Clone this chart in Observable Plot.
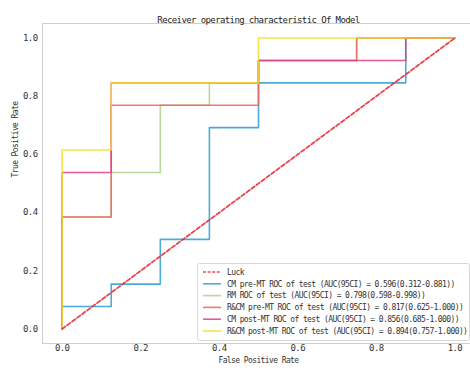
<!DOCTYPE html>
<html>
<head>
<meta charset="utf-8">
<script src="https://cdn.jsdelivr.net/npm/d3@7"></script>
<script src="https://cdn.jsdelivr.net/npm/@observablehq/plot@0.6"></script>
<style>
  html, body { margin: 0; padding: 0; background: #fff; }
  .roc text { letter-spacing: -0.6px; }
</style>
</head>
<body>
<div id="chart"></div>
<script>
// ---- data ----
const title = "Receiver operating characteristic Of Model";
const xLabel = "False Positive Rate";
const yLabel = "True Positive Rate";
const ticks = [0, 0.2, 0.4, 0.6, 0.8, 1.0];

const seriesNames = [
  "CM pre-MT ROC of test (AUC(95CI) = 0.596(0.312-0.881))",
  "RM ROC of test (AUC(95CI) = 0.798(0.598-0.998))",
  "R&CM pre-MT ROC of test (AUC(95CI) = 0.817(0.625-1.000))",
  "CM post-MT ROC of test (AUC(95CI) = 0.856(0.685-1.000))",
  "R&CM post-MT ROC of test (AUC(95CI) = 0.894(0.757-1.000))"
];
const luckName = "Luck";
const luckX = [0, 1];
const luckY = [0, 1];

const cmPreFpr  = [0, 0, 0.125, 0.125, 0.25, 0.25, 0.375, 0.375, 0.5, 0.5, 0.875, 0.875, 1];
const cmPreTpr  = [0, 0.077, 0.077, 0.154, 0.154, 0.308, 0.308, 0.692, 0.692, 0.846, 0.846, 1, 1];
const rmFpr     = [0, 0, 0.125, 0.125, 0.25, 0.25, 0.375, 0.375, 0.5, 0.5, 0.75, 0.75, 1];
const rmTpr     = [0, 0.385, 0.385, 0.538, 0.538, 0.769, 0.769, 0.846, 0.846, 0.923, 0.923, 1, 1];
const rcmPreFpr = [0, 0, 0.125, 0.125, 0.5, 0.5, 0.75, 0.75, 1];
const rcmPreTpr = [0, 0.385, 0.385, 0.769, 0.769, 0.923, 0.923, 1, 1];
const cmPostFpr = [0, 0, 0.125, 0.125, 0.5, 0.5, 0.875, 0.875, 1];
const cmPostTpr = [0, 0.538, 0.538, 0.846, 0.846, 0.923, 0.923, 1, 1];
const rcmPostFpr = [0, 0, 0.125, 0.125, 0.5, 0.5, 1];
const rcmPostTpr = [0, 0.615, 0.615, 0.846, 0.846, 1, 1];

const colors = ["#2f9bd0", "#b2d08a", "#ee6258", "#dc3f8c", "#f0df2a"];
const luckColor = "#e8303a";

// ---- build table ----
const curves = [
  [cmPreFpr, cmPreTpr], [rmFpr, rmTpr], [rcmPreFpr, rcmPreTpr],
  [cmPostFpr, cmPostTpr], [rcmPostFpr, rcmPostTpr]
];
const font = "'DejaVu Sans Mono', 'Liberation Mono', monospace";

const lineMarks = curves.map(([fx, ty], i) =>
  Plot.line(fx.map((v, j) => ({fpr: v, tpr: ty[j]})), {
    x: "fpr", y: "tpr", stroke: colors[i], strokeWidth: 1.6, strokeOpacity: 0.85
  })
);

const chart = Plot.plot({
  width: 470,
  height: 370,
  marginLeft: 42,
  marginRight: -4,
  marginTop: 23,
  marginBottom: 27,
  className: "roc",
  style: {fontFamily: font, fontSize: "9px", color: "#333", background: "#fff"},
  x: {domain: [-0.05, 1.05]},
  y: {domain: [-0.05, 1.05]},
  marks: [
    Plot.frame({stroke: "#cfcfcf", strokeWidth: 1}),
    Plot.axisX({ticks, tickSize: 0, tickPadding: 1, tickFormat: d3.format(".1f"), label: null, fontSize: 9}),
    Plot.axisY({ticks, tickSize: 0, tickPadding: 5, tickFormat: d3.format(".1f"), label: null, fontSize: 9}),
    ...lineMarks,
    Plot.line(luckX.map((v, j) => ({fpr: v, tpr: luckY[j]})), {
      x: "fpr", y: "tpr", stroke: luckColor, strokeWidth: 1.8, strokeDasharray: "4,2.2", strokeOpacity: 0.9
    }),
    Plot.text([title], {frameAnchor: "top", dy: -7, fontSize: 9, fill: "#222"}),
    Plot.text([xLabel], {frameAnchor: "bottom", dy: 19, fontSize: 8, fill: "#333"}),
    Plot.text([yLabel], {frameAnchor: "left", dx: -27, dy: -6, rotate: -90, fontSize: 8, fill: "#333"})
  ]
});

// ---- legend ----
const svg = d3.select(chart);
const lg = svg.append("g").attr("font-family", font).attr("font-size", 8).attr("text-anchor", "start");
lg.append("rect").attr("x", 197.5).attr("y", 263.5).attr("width", 272).attr("height", 77)
  .attr("rx", 2).attr("fill", "#fff").attr("fill-opacity", 0.85).attr("stroke", "#d8d8d8");
const entries = [{name: luckName, color: luckColor, dash: "3,1.6"}]
  .concat(seriesNames.map((n, i) => ({name: n, color: colors[i], dash: null})));
entries.forEach((e, i) => {
  const y = 272 + i * 11.8;
  lg.append("line").attr("x1", 203).attr("x2", 221).attr("y1", y).attr("y2", y)
    .attr("stroke", e.color).attr("stroke-width", 1.6)
    .attr("stroke-dasharray", e.dash).attr("stroke-opacity", 0.85);
  lg.append("text").attr("x", 227).attr("y", y).attr("dy", "0.35em")
    .attr("text-anchor", "start").attr("fill", "#333").text(e.name);
});

document.getElementById("chart").appendChild(chart);
</script>
</body>
</html>
